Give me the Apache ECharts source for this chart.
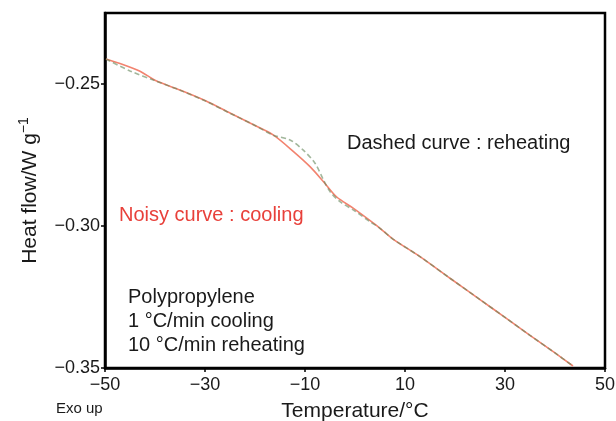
<!DOCTYPE html>
<html>
<head>
<meta charset="utf-8">
<script src="https://cdn.jsdelivr.net/npm/echarts@6/dist/echarts.min.js"></script>
<style>
  html, body { margin: 0; padding: 0; background: #fff; }
  #chart { width: 616px; height: 421px; }
</style>
</head>
<body>
<div id="chart"></div>
<script>
// DSC trace of polypropylene: heat flow vs temperature
const xTicks = [-50, -30, -10, 10, 30, 50];
const yTicks = [-0.35, -0.30, -0.25];

// Cooling at 1 °C/min (noisy solid curve)
const coolingTemp = [-49.8, -47, -43, -40, -35, -30, -25, -20, -16.3, -12.3, -9, -6.3, -3.7, -0.3, 3.7, 5, 7.6, 13, 19, 25, 30, 35, 40, 43.6];
const coolingFlow = [-0.2412, -0.2428, -0.2455, -0.2487, -0.2521, -0.2558, -0.2602, -0.2646, -0.2680, -0.2738, -0.2791, -0.2844, -0.2897, -0.2938, -0.2990, -0.3008, -0.3046, -0.3108, -0.3184, -0.3259, -0.3322, -0.3385, -0.3447, -0.3493];

// Reheating at 10 °C/min (dashed curve)
const reheatTemp = [-49.8, -45, -40, -35, -30, -25, -20, -16.4, -13, -10.4, -8, -6.3, -5, -3, -0.3, 3, 5, 7.6, 13, 19, 25, 30, 35, 40, 43.6];
const reheatFlow = [-0.2412, -0.2454, -0.2488, -0.2522, -0.2559, -0.2603, -0.2646, -0.2680, -0.2697, -0.2732, -0.2779, -0.2838, -0.2879, -0.2914, -0.2944, -0.2985, -0.3008, -0.3046, -0.3108, -0.3184, -0.3259, -0.3322, -0.3385, -0.3447, -0.3493];

const pair = (xs, ys) => xs.map((x, i) => [x, ys[i]]);
const minus = s => String(s).replace('-', '\u2212');

const FONT = '"Liberation Sans", Arial, sans-serif';
const chart = echarts.init(document.getElementById('chart'), null, { renderer: 'canvas' });

chart.setOption({
  animation: false,
  backgroundColor: '#ffffff',
  grid: {
    left: 105, right: 11, top: 13, bottom: 53,
    containLabel: false, outerBoundsMode: 'none',
    show: true, borderColor: '#000', borderWidth: 2.5, backgroundColor: 'transparent'
  },
  xAxis: {
    type: 'value', min: -50, max: 50,
    name: 'Temperature/°C', nameLocation: 'middle', nameGap: 33,
    nameTextStyle: { fontFamily: FONT, fontSize: 21, color: '#1a1a1a' },
    axisLine: { show: true, onZero: false, lineStyle: { color: '#000', width: 2.5 } },
    axisTick: { show: true, length: 4, lineStyle: { color: '#000', width: 1.5 }, customValues: xTicks },
    axisLabel: { fontFamily: FONT, fontSize: 18, color: '#1a1a1a', margin: 8, customValues: xTicks, formatter: v => minus(v) },
    splitLine: { show: false }
  },
  yAxis: {
    type: 'value', min: -0.35, max: -0.225,
    name: 'Heat flow/W g{sup|\u22121}', nameLocation: 'middle', nameGap: 62, nameRotate: 90,
    nameTextStyle: {
      fontFamily: FONT, fontSize: 21, color: '#1a1a1a',
      rich: { sup: { fontFamily: FONT, fontSize: 14, color: '#1a1a1a', verticalAlign: 'top', padding: [0, 0, 12, 0] } }
    },
    axisLine: { show: true, onZero: false, lineStyle: { color: '#000', width: 2.5 } },
    axisTick: { show: true, length: 4, lineStyle: { color: '#000', width: 1.5 }, customValues: yTicks },
    axisLabel: { fontFamily: FONT, fontSize: 18, color: '#1a1a1a', margin: 5, customValues: yTicks, formatter: v => minus(v.toFixed(2)) },
    splitLine: { show: false }
  },
  series: [
    {
      name: 'cooling', type: 'line', data: pair(coolingTemp, coolingFlow),
      showSymbol: false, smooth: 0.3,
      lineStyle: { color: '#f2836f', width: 1.6 }
    },
    {
      name: 'reheating', type: 'line', data: pair(reheatTemp, reheatFlow),
      showSymbol: false, smooth: 0.3,
      lineStyle: { color: 'rgba(100,135,90,0.6)', width: 1.6, type: [5, 3] }
    }
  ],
  graphic: [
    { type: 'text', left: 347, top: 133, style: { text: 'Dashed curve : reheating', font: '20px ' + FONT, fill: '#1a1a1a' } },
    { type: 'text', left: 119, top: 205, style: { text: 'Noisy curve : cooling', font: '20px ' + FONT, fill: '#e8403a' } },
    { type: 'text', left: 128, top: 287, style: { text: 'Polypropylene', font: '20px ' + FONT, fill: '#1a1a1a' } },
    { type: 'text', left: 128, top: 311, style: { text: '1 °C/min cooling', font: '20px ' + FONT, fill: '#1a1a1a' } },
    { type: 'text', left: 128, top: 335, style: { text: '10 °C/min reheating', font: '20px ' + FONT, fill: '#1a1a1a' } },
    { type: 'text', left: 56, top: 401, style: { text: 'Exo up', font: '15px ' + FONT, fill: '#1a1a1a' } }
  ]
});
</script>
</body>
</html>
